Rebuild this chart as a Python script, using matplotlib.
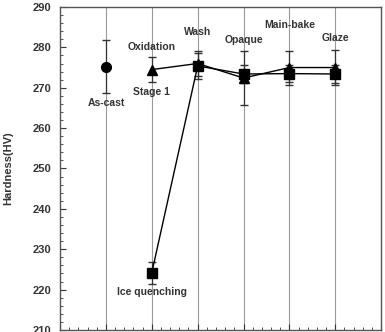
import matplotlib.pyplot as plt
from matplotlib.ticker import MultipleLocator

# positions of the process steps along x
steps = [1, 2, 3, 4, 5, 6]

# as-cast point
cast_x = [1]
cast_hv = [275.2]
cast_err = [6.5]

# stage 1 series (triangles): oxidation -> glaze
tri_x = [2, 3, 4, 5, 6]
tri_hv = [274.5, 276.0, 272.4, 275.0, 275.0]
tri_err = [3.0, 3.0, 6.8, 4.2, 4.3]

# ice quenching series (squares)
sq_x = [2, 3, 4, 5, 6]
sq_hv = [224.2, 275.4, 273.4, 273.5, 273.4]
sq_err = [2.7, 3.2, 2.2, 2.2, 2.3]

labels = ["As-cast", "Oxidation", "Stage 1", "Wash", "Opaque",
          "Main-bake", "Glaze", "Ice quenching"]
label_x = [1, 2, 2, 3, 4, 5, 6, 2]
label_y = [266.3, 280.0, 269.0, 283.8, 281.8, 285.5, 282.4, 219.3]


def main():
    plt.rcParams['font.family'] = ['Liberation Sans', 'DejaVu Sans']
    fig = plt.figure(figsize=(3.85, 3.32), dpi=100)
    ax = fig.add_axes([0.156, 0.006, 0.834, 0.973])

    for x in steps:
        ax.axvline(x, color='#999999', lw=0.8, zorder=0)

    ax.errorbar(cast_x, cast_hv, yerr=cast_err, fmt='o', color='black',
                ecolor='#333333', elinewidth=0.9, capsize=3, ms=7)
    ax.errorbar(tri_x, tri_hv, yerr=tri_err, fmt='-^', color='black',
                ecolor='#333333', lw=1.0, elinewidth=0.9, capsize=3, ms=7,
                markerfacecolor='black')
    ax.errorbar(sq_x, sq_hv, yerr=sq_err, fmt='-s', color='black',
                ecolor='#333333', lw=1.0, elinewidth=0.9, capsize=3, ms=7)

    for t, x, y in zip(labels, label_x, label_y):
        ax.text(x, y, t, ha='center', va='center', fontsize=7.5,
                fontweight='bold', color='#333333')

    ax.set_xlim(0, 7)
    ax.set_ylim(210, 290)
    ax.yaxis.set_major_locator(MultipleLocator(10))
    ax.yaxis.set_minor_locator(MultipleLocator(2))
    ax.xaxis.set_major_locator(MultipleLocator(1))
    ax.xaxis.set_minor_locator(MultipleLocator(0.2))
    ax.tick_params(axis='both', which='major', direction='in', length=4,
                   color='#333333')
    ax.tick_params(axis='both', which='minor', direction='in', length=2,
                   color='#333333')
    ax.tick_params(axis='x', labelbottom=False)
    ax.tick_params(axis='y', labelsize=8, labelcolor='#333333', pad=6)
    for lab in ax.get_yticklabels():
        lab.set_fontweight('bold')
    for s in ax.spines.values():
        s.set_color('#555555')
        s.set_linewidth(1.0)

    ax.set_ylabel("Hardness(HV)", fontsize=8, fontweight='bold',
                  color='#333333', labelpad=14)

    fig.savefig('out.png', dpi=100)


if __name__ == '__main__':
    main()
